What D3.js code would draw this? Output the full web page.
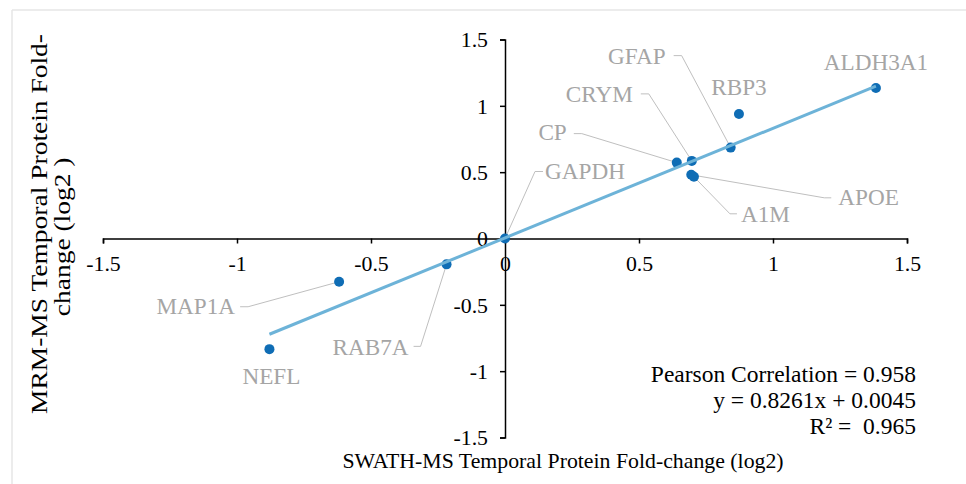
<!DOCTYPE html>
<html>
<head>
<meta charset="utf-8">
<script src="https://cdn.jsdelivr.net/npm/d3@7"></script>
<style>
  html, body { margin: 0; padding: 0; background: #fff; }
  svg { display: block; }
  text { font-family: "Liberation Serif", "Times New Roman", serif; white-space: pre; }
</style>
</head>
<body>
<svg id="chart" width="966" height="484"></svg>
<script>
// Protein fold-change (log2): SWATH-MS vs MRM-MS
const proteins = ["GAPDH", "ALDH3A1", "RBP3", "GFAP", "CRYM", "CP", "APOE", "A1M", "RAB7A", "MAP1A", "NEFL"];
const swathValues = [0.0, 1.384, 0.873, 0.842, 0.697, 0.641, 0.695, 0.705, -0.218, -0.619, -0.879];
const mrmValues   = [0.0, 1.134, 0.939, 0.685, 0.585, 0.572, 0.480, 0.465, -0.195, -0.326, -0.834];

const tickValues = [-1.5, -1, -0.5, 0, 0.5, 1, 1.5];
const fitSlope = 0.8261;
const fitIntercept = 0.0045;
const statLines = ["Pearson Correlation = 0.958", "y = 0.8261x + 0.0045", "R\u00B2 =  0.965"];

// Label placement for each protein: text anchor position plus leader elbow (pixel offsets from the point)
const labelLayout = {
  GAPDH:   { dx: 40,  dy: -60, anchor: "start",  elbow: [30, -67], lead: [38, -67] },
  ALDH3A1: { dx: 0,   dy: -18, anchor: "middle" },
  RBP3:    { dx: 0,   dy: -19, anchor: "middle" },
  GFAP:    { dx: -65, dy: -84, anchor: "end",    elbow: [-49, -92], lead: [-57, -92] },
  CRYM:    { dx: -59, dy: -59, anchor: "end",    elbow: [-43, -67], lead: [-51, -67] },
  CP:      { dx: -110, dy: -23, anchor: "end",   elbow: [-95, -29], lead: [-103, -29] },
  APOE:    { dx: 147, dy: 30,  anchor: "start",  elbow: [133, 23], lead: [140, 23] },
  A1M:     { dx: 47,  dy: 45,  anchor: "start",  elbow: [36, 37], lead: [43, 37] },
  RAB7A:   { dx: -38, dy: 91,  anchor: "end",    elbow: [-26, 82], lead: [-33, 82] },
  MAP1A:   { dx: -104, dy: 32, anchor: "end",    elbow: [-91, 25], lead: [-99, 25] },
  NEFL:    { dx: 2,   dy: 35,  anchor: "middle" }
};

const svg = d3.select("#chart");
const tickFont = 21.8;
const labelFont = 23.2;
const statFont = 23.5;
const titleFont = 21.8;

// Light frame along top and left edges
svg.append("line").attr("x1", 12).attr("y1", 10).attr("x2", 966).attr("y2", 10)
  .attr("stroke", "#e6e6e6").attr("stroke-width", 1.5);
svg.append("line").attr("x1", 12).attr("y1", 10).attr("x2", 12).attr("y2", 484)
  .attr("stroke", "#e6e6e6").attr("stroke-width", 1.5);

const x = d3.scaleLinear().domain([-1.5, 1.5]).range([103, 907]);
const y = d3.scaleLinear().domain([-1.5, 1.5]).range([437.5, 39.5]);

// Axes crossing at the origin
const fmt = d => d3.format("")(d).replace("\u2212", "-");
const xAxis = d3.axisBottom(x).tickValues(tickValues).tickSize(5).tickPadding(7).tickFormat(fmt);
const yAxis = d3.axisLeft(y).tickValues(tickValues).tickSize(5).tickPadding(12).tickFormat(fmt);

const gx = svg.append("g").attr("transform", `translate(0,${y(0)})`).call(xAxis);
const gy = svg.append("g").attr("transform", `translate(${x(0)},0)`).call(yAxis);
[gx, gy].forEach(g => {
  g.selectAll("path.domain").attr("stroke", "#000").attr("stroke-width", 1.5);
  g.selectAll(".tick line").attr("stroke", "#000").attr("stroke-width", 1.5);
  g.selectAll(".tick text").attr("fill", "#000").style("font-size", tickFont + "px")
    .style("font-family", "'Liberation Serif', 'Times New Roman', serif");
});
gx.selectAll(".tick text").attr("dy", "0.95em");
gy.selectAll(".tick text").attr("dy", "0.34em");

const points = proteins.map((p, i) => ({ name: p, sx: swathValues[i], my: mrmValues[i] }));

// Leader lines
const leaders = svg.append("g");
points.forEach(d => {
  const L = labelLayout[d.name];
  if (!L.elbow) return;
  const px = x(d.sx), py = y(d.my);
  leaders.append("polyline")
    .attr("points", [[px, py], [px + L.elbow[0], py + L.elbow[1]], [px + L.lead[0], py + L.lead[1]]]
      .map(p => p.join(",")).join(" "))
    .attr("fill", "none").attr("stroke", "#bfbfbf").attr("stroke-width", 1);
});

// Points
svg.append("g").selectAll("circle").data(points).join("circle")
  .attr("cx", d => x(d.sx)).attr("cy", d => y(d.my)).attr("r", 5)
  .attr("fill", "#0f6db5");

// Linear trend line across the data range
const xExtent = d3.extent(swathValues);
svg.append("line")
  .attr("x1", x(xExtent[0])).attr("y1", y(fitSlope * xExtent[0] + fitIntercept))
  .attr("x2", x(xExtent[1])).attr("y2", y(fitSlope * xExtent[1] + fitIntercept))
  .attr("stroke", "#6db3d8").attr("stroke-width", 3);

// Data labels
svg.append("g").selectAll("text").data(points).join("text")
  .attr("x", d => x(d.sx) + labelLayout[d.name].dx)
  .attr("y", d => y(d.my) + labelLayout[d.name].dy)
  .attr("text-anchor", d => labelLayout[d.name].anchor)
  .attr("fill", "#a5a5a5").style("font-size", labelFont + "px")
  .text(d => d.name);

// Regression statistics
svg.append("g").selectAll("text").data(statLines).join("text")
  .attr("x", 916).attr("y", (d, i) => 382 + i * 26)
  .attr("text-anchor", "end").attr("fill", "#000").style("font-size", statFont + "px")
  .text(d => d);

// Axis titles
svg.append("text").attr("x", 563).attr("y", 468).attr("text-anchor", "middle")
  .attr("fill", "#000").style("font-size", titleFont + "px")
  .text("SWATH-MS Temporal Protein Fold-change (log2)");

const yTitle = svg.append("text").attr("text-anchor", "middle").attr("fill", "#000")
  .style("font-size", "23.5px")
  .attr("transform", "translate(47,224) rotate(-90) scale(1.17,1)");
yTitle.append("tspan").attr("x", 0).attr("y", 0).text("MRM-MS Temporal Protein Fold-");
yTitle.append("tspan").attr("x", -11).attr("y", 23).text("change (log2 )");
</script>
</body>
</html>
